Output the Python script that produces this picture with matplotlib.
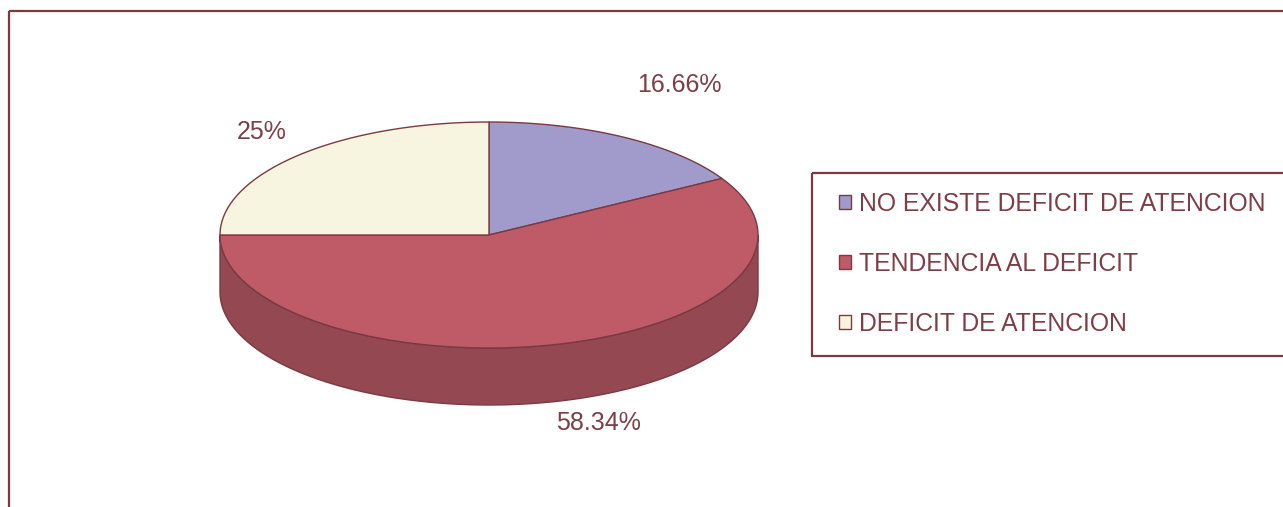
import numpy as np
import matplotlib
matplotlib.use("Agg")
import matplotlib.pyplot as plt
from matplotlib.patches import Polygon, Rectangle, Patch

# ---- data ----
categories = ["NO EXISTE DEFICIT DE ATENCION", "TENDENCIA AL DEFICIT", "DEFICIT DE ATENCION"]
values = [16.66, 58.34, 25.0]
labels = ["16.66%", "58.34%", "25%"]

# ---- style ----
top_colors = ["#A09BCB", "#BE5B67", "#F7F4DF"]
side_colors = ["#6F6B90", "#934852", "#B5B2A2"]
edge = "#7A3A42"
txt = "#7E3E46"
plt.rcParams["font.family"] = ["Liberation Sans", "DejaVu Sans"]

W, H = 1283, 507
fig = plt.figure(figsize=(W / 100, H / 100), dpi=100)
ax = fig.add_axes([0, 0, 1, 1])
ax.set_xlim(0, W)
ax.set_ylim(H, 0)
ax.axis("off")

# pie geometry (pixel space)
cx, cy, rx, ry, depth = 489, 235, 269, 113, 57

def pt(a, dy=0.0):
    r = np.deg2rad(a)
    return cx + rx * np.cos(r), cy - ry * np.sin(r) + dy

# angles: start at 90 deg, clockwise
total = sum(values)
angles = []
start = 90.0
for v in values:
    span = 360.0 * v / total
    angles.append((start - span, start))
    start -= span

# sides (front half: 180..360)
for (a0, a1), sc in zip(angles, side_colors):
    for shift in (-360, 0, 360):
        lo = max(a0 + shift, 180)
        hi = min(a1 + shift, 360)
        if hi > lo:
            ts = np.linspace(lo, hi, 120)
            topc = [pt(t) for t in ts]
            botc = [pt(t, depth) for t in ts[::-1]]
            ax.add_patch(Polygon(topc + botc, closed=True, facecolor=sc,
                                 edgecolor=edge, lw=1.0, zorder=2))

# tops
for (a0, a1), tc in zip(angles, top_colors):
    ts = np.linspace(a0, a1, 200)
    poly = [(cx, cy)] + [pt(t) for t in ts]
    ax.add_patch(Polygon(poly, closed=True, facecolor=tc,
                         edgecolor=edge, lw=1.0, zorder=3))

# percentage labels
label_pos = [(679, 85), (598, 423), (262, 132)]
for lab, (x, y) in zip(labels, label_pos):
    ax.text(x, y, lab, ha="center", va="center", fontsize=18, color=txt)

# outer frame
ax.add_patch(Rectangle((8.5, 10.5), W, H, fill=False, edgecolor=edge, lw=1.6, zorder=5))

# legend frame
ax.add_patch(Rectangle((811.5, 172.5), 500, 183, fill=False, edgecolor=edge, lw=1.6, zorder=5))

handles = [Patch(facecolor=c, edgecolor=edge, lw=1.0) for c in top_colors]
leg = fig.legend(handles, categories, loc="upper left",
                 bbox_to_anchor=(819 / W, 1 - 172 / H), frameon=False,
                 fontsize=17.8, handlelength=0.5, handleheight=0.5,
                 handletextpad=0.3, labelspacing=1.46, borderpad=0.3)
for t in leg.get_texts():
    t.set_color(txt)

fig.savefig("out.png", dpi=100, facecolor="white")
